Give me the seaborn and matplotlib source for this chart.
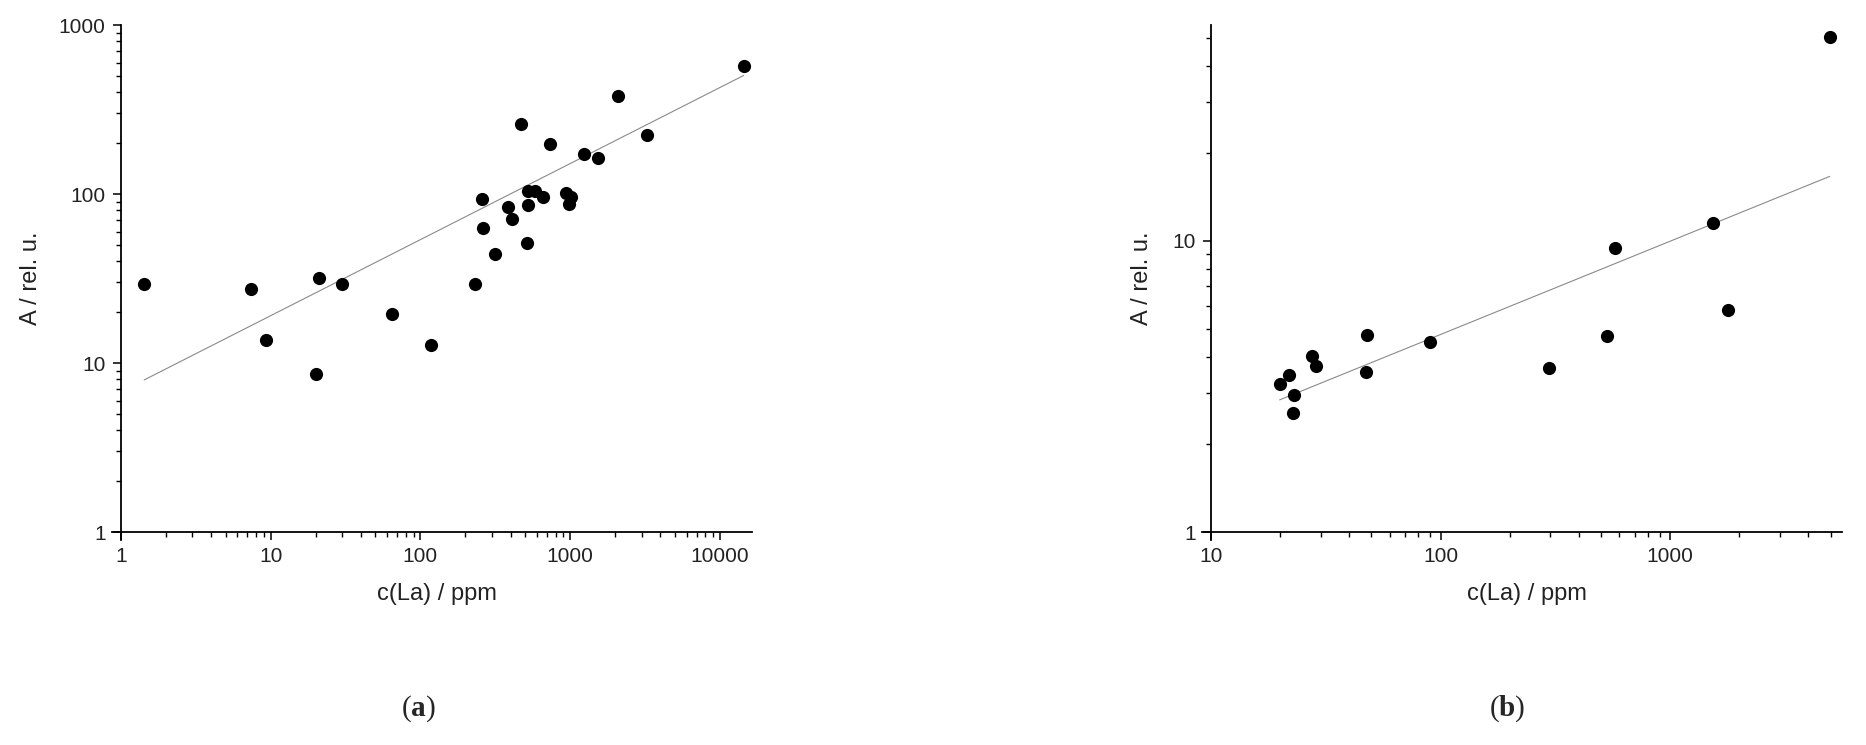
import numpy as np
import pandas as pd
import matplotlib
matplotlib.use("Agg")
import matplotlib.pyplot as plt
import matplotlib.ticker as mticker
import seaborn as sns

# panel (a): c(La) in ppm vs. A in rel. u.
conc_a = [1.43, 7.36, 9.28, 20.0, 21.0, 30.0, 64.8, 118, 233, 258, 264, 316,
          387, 408, 473, 514, 522, 526, 584, 658, 731, 935, 1008, 977, 1242,
          1543, 2096, 3258, 14420]
signal_a = [29.4, 27.4, 13.6, 8.56, 31.7, 29.4, 19.5, 12.7, 29.4, 93.5, 63.0, 43.9,
            83.5, 71.3, 260, 51.6, 85.8, 103.7, 103.7, 96.6, 197, 102, 96.6, 87.7, 173,
            163, 378, 222, 575]

# panel (b)
conc_b = [19.9, 21.8, 23.0, 22.7, 27.6, 28.7, 47.6, 47.3, 90.2, 298, 528, 574,
          1535, 1782, 4955]
signal_b = [3.22, 3.46, 2.95, 2.56, 4.03, 3.73, 4.75, 3.54, 4.50, 3.66, 4.72, 9.48,
            11.5, 5.77, 50.4]

# power-law fit lines log10(A) = k*log10(c) + d
fit_a = {"slope": 0.45, "intercept": 0.83}
fit_b = {"slope": 0.3205, "intercept": 0.0377}

df_a = pd.DataFrame({"c": conc_a, "A": signal_a})
df_b = pd.DataFrame({"c": conc_b, "A": signal_b})

sns.set_theme(style="ticks")
plt.rcParams["font.family"] = ["Liberation Sans", "DejaVu Sans"]
plt.rcParams["mathtext.fontset"] = "custom"
plt.rcParams["mathtext.rm"] = "Liberation Serif"
plt.rcParams["mathtext.bf"] = "Liberation Serif:bold"

fig = plt.figure(figsize=(18.66, 7.45), dpi=100)
ax1 = fig.add_axes([0.0648, 0.2859, 0.3382, 0.6805])
ax2 = fig.add_axes([0.649, 0.2859, 0.3382, 0.6805])


def fit_line(df, fit):
    lx = np.log10([df["c"].min(), df["c"].max()])
    return pd.DataFrame({"c": 10 ** lx, "A": 10 ** (fit["slope"] * lx + fit["intercept"])})


def style_axis(ax, xlim, ylim, overhang, ylab_x):
    ax.set_xscale("log")
    ax.set_yscale("log")
    ax.set_xlim(*xlim)
    ax.set_ylim(*ylim)
    for s in ["top", "right"]:
        ax.spines[s].set_visible(False)
    for s in ["left", "bottom"]:
        ax.spines[s].set_linewidth(1.3)
        ax.spines[s].set_color("black")
        ax.spines[s].set_clip_on(False)
    ax.spines["bottom"].set_bounds(overhang[0], xlim[1])
    ax.spines["left"].set_bounds(overhang[1], ylim[1])
    fmt = mticker.FuncFormatter(lambda v, _: f"{v:g}")
    ax.xaxis.set_major_formatter(fmt)
    ax.yaxis.set_major_formatter(fmt)
    ax.xaxis.set_minor_formatter(mticker.NullFormatter())
    ax.yaxis.set_minor_formatter(mticker.NullFormatter())
    ax.tick_params(which="major", direction="out", length=6, width=1.1,
                   labelsize=15, color="black", labelcolor="#222222", pad=5)
    ax.tick_params(which="minor", direction="out", length=3.5, width=1.0, color="black")
    ax.set_xlabel("c(La) / ppm", fontsize=17, color="#222222", labelpad=12)
    ax.set_ylabel("A / rel. u.", fontsize=17, color="#222222")
    ax.yaxis.set_label_coords(ylab_x, 0.5)


for ax, df, fit in [(ax1, df_a, fit_a), (ax2, df_b, fit_b)]:
    sns.lineplot(data=fit_line(df, fit), x="c", y="A", ax=ax, color="#8a8a8a",
                 linewidth=0.8, zorder=1)
    sns.scatterplot(data=df, x="c", y="A", ax=ax, color="black", s=90,
                    edgecolor="black", linewidth=0, zorder=3)

style_axis(ax1, (1, 16400), (1, 1000), (0.87, 0.897), -0.125)
style_axis(ax2, (10, 5610), (1, 55.2), (9.13, 0.939), -0.092)

ax2.set_yticks([1, 10])

fig.text(418 / 1866, 1 - 709 / 745, r"$\mathrm{(}\mathbf{a}\mathrm{)}$", ha="center",
         va="center", fontsize=21)
fig.text(1507 / 1866, 1 - 709 / 745, r"$\mathrm{(}\mathbf{b}\mathrm{)}$", ha="center",
         va="center", fontsize=21)

fig.savefig("out.png", dpi=100, facecolor="white")
